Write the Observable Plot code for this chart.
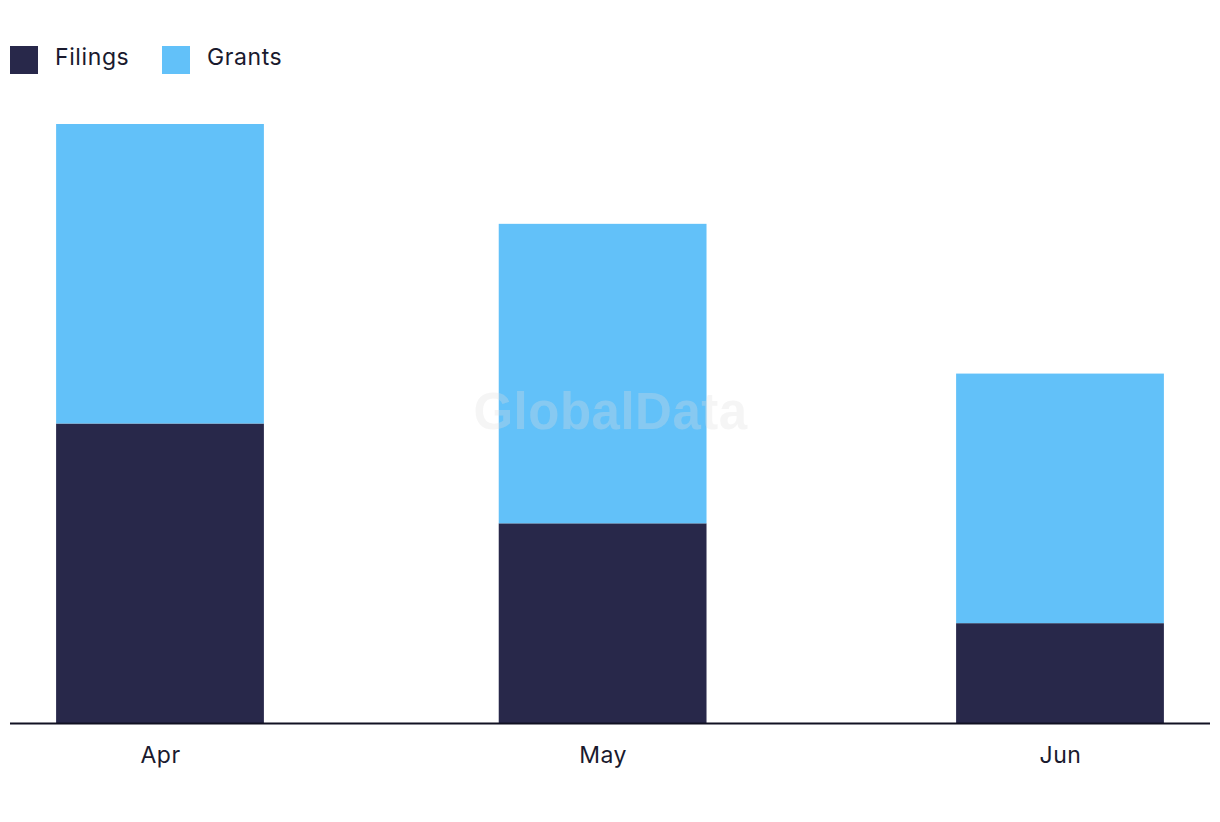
<!DOCTYPE html>
<html>
<head>
<meta charset="utf-8">
<script src="https://cdn.jsdelivr.net/npm/d3@7"></script>
<script src="https://cdn.jsdelivr.net/npm/@observablehq/plot@0.6"></script>
<style>
  html, body { margin: 0; padding: 0; background: #fff; }
  body { width: 1220px; height: 822px; position: relative; font-family: Inter, "Open Sans", sans-serif; color: #1a1a2e; overflow: hidden; }
  .legend { position: absolute; top: 0; left: 0; width: 1220px; height: 100px; }
  .sw { position: absolute; top: 46px; width: 28px; height: 28px; }
  .lab { position: absolute; top: 42px; font-size: 23px; letter-spacing: 0.6px; line-height: 30px; color: #1a1a2e; }
  #chart { position: absolute; top: 100px; left: 0; }
</style>
</head>
<body>
<div class="legend" id="legend"></div>
<div id="chart"></div>
<script>
const months = ["Apr", "May", "Jun"];
const monthStarts = ["2023-04-01", "2023-05-01", "2023-06-01"];
const filings = [6, 4, 2];
const grants = [6, 6, 5];
const seriesNames = ["Filings", "Grants"];
const seriesColors = ["#28284a", "#62c1f9"];

const rows = [];
months.forEach((m, i) => {
  const date = new Date(monthStarts[i] + "T00:00:00Z");
  rows.push({month: m, date, series: "Filings", value: filings[i]});
  rows.push({month: m, date, series: "Grants", value: grants[i]});
});
const dates = monthStarts.map(s => new Date(s + "T00:00:00Z"));

// legend
const legend = document.getElementById("legend");
const legendX = [[10, 55], [162, 207]];
seriesNames.forEach((name, i) => {
  const sw = document.createElement("div");
  sw.className = "sw";
  sw.style.left = legendX[i][0] + "px";
  sw.style.background = seriesColors[i];
  legend.appendChild(sw);
  const lab = document.createElement("div");
  lab.className = "lab";
  lab.style.left = legendX[i][1] + "px";
  lab.textContent = name;
  legend.appendChild(lab);
});

const pad = 244; // hours of padding either side of the domain
const half = 169; // half bar width in hours
const chart = Plot.plot({
  width: 1220,
  height: 700,
  marginTop: 24,
  marginBottom: 77,
  marginLeft: 10,
  marginRight: 10,
  style: {fontFamily: "Inter, 'Open Sans', sans-serif", fontSize: "23px", letterSpacing: "0.5px", color: "#1a1a2e", background: "transparent"},
  x: {
    type: "utc",
    domain: [d3.utcHour.offset(dates[0], -pad), d3.utcHour.offset(dates[dates.length - 1], pad)],
    ticks: dates,
    tickFormat: d3.utcFormat("%b"),
    tickSize: 0,
    tickPadding: 23,
    label: null
  },
  y: {domain: [0, 12], axis: null},
  color: {domain: seriesNames, range: seriesColors},
  marks: [
    Plot.rectY(rows, Plot.stackY({
      x1: d => d3.utcHour.offset(d.date, -half),
      x2: d => d3.utcHour.offset(d.date, half),
      y: "value",
      fill: "series",
      order: seriesNames
    })),
    Plot.text(["GlobalData"], {
      frameAnchor: "middle",
      dy: -11,
      text: d => d,
      fontSize: 51,
      fontWeight: "bold",
      fontFamily: "'Liberation Sans', Arial, sans-serif",
      fill: "#dddddd",
      fillOpacity: 0.3
    }),
    Plot.ruleY([0], {stroke: "#111122", strokeWidth: 2})
  ]
});
document.getElementById("chart").appendChild(chart);
</script>
</body>
</html>
